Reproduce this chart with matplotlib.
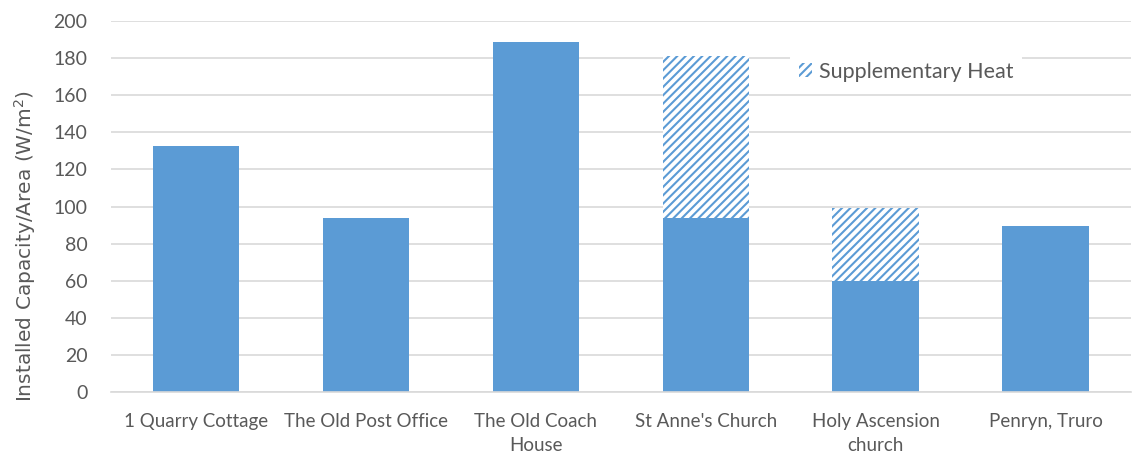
import numpy as np
import matplotlib
matplotlib.use("Agg")
import matplotlib.pyplot as plt

# data
sites = ["1 Quarry Cottage", "The Old Post Office", "The Old Coach\nHouse",
         "St Anne's Church", "Holy Ascension\nchurch", "Penryn, Truro"]
heat_pump = [132.5, 94, 188.5, 94, 60, 89.5]
supplementary = [0, 0, 0, 87, 39, 0]

blue = "#5B9BD5"
grey_txt = "#595959"
grid_col = "#D9D9D9"

plt.rcParams['font.family'] = ['Lato', 'DejaVu Sans']
plt.rcParams['hatch.linewidth'] = 1.5
plt.rcParams['hatch.color'] = blue

fig = plt.figure(figsize=(11.47, 4.55), dpi=100)
ax = fig.add_axes([0.0968, 0.1374, 0.889, 0.8171])

x = np.arange(len(sites))
ax.bar(x, heat_pump, width=0.51, color=blue, zorder=2)
sup = ax.bar(x, supplementary, width=0.51, bottom=heat_pump, color="white",
             edgecolor=blue, hatch="////", linewidth=0, zorder=2,
             label="Supplementary Heat")

ax.set_xlim(-0.5, len(sites) - 0.5)
ax.set_ylim(0, 200)
ax.set_yticks(np.arange(0, 201, 20))
ax.set_xticks(x)
ax.set_xticklabels(sites, fontsize=13.5, color=grey_txt, linespacing=1.45)
ax.tick_params(axis='y', labelsize=14, colors=grey_txt, length=0, pad=17)
ax.tick_params(axis='x', length=0, pad=15)
ax.yaxis.grid(True, color=grid_col, linewidth=1.2, zorder=0)
ax.set_axisbelow(True)
for s in ["top", "right", "left"]:
    ax.spines[s].set_visible(False)
ax.spines["bottom"].set_color(grid_col)
ax.spines["bottom"].set_linewidth(1.2)

ax.set_ylabel("Installed Capacity/Area (W/m$^2$)", fontsize=14.5, color=grey_txt,
              family=['DejaVu Sans'])
# the title sits lower than the plot centre in the original
ax.yaxis.set_label_coords(-0.072, 0.394)

leg = ax.legend(handles=[sup], loc="center", bbox_to_anchor=(0.79, 0.842),
                bbox_transform=fig.transFigure, frameon=True, fontsize=15.5,
                handlelength=0.6, handleheight=0.6, handletextpad=0.35,
                borderpad=0.4)
leg.get_frame().set_edgecolor("none")
leg.get_frame().set_facecolor("white")
leg.get_frame().set_alpha(1)
for t in leg.get_texts():
    t.set_color(grey_txt)

fig.savefig("out.png", dpi=100)
